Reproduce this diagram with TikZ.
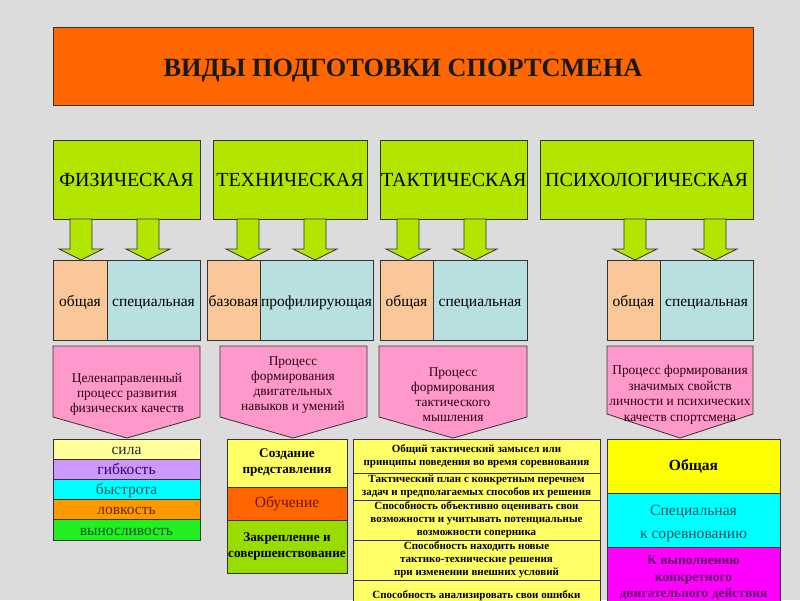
\documentclass[tikz,border=0pt]{standalone}
\usepackage{fontspec}
\setmainfont{Liberation Serif}
\definecolor{bgc}{HTML}{DCDCDC}
\definecolor{bordc}{HTML}{333333}
\definecolor{orng}{HTML}{FF6600}
\definecolor{lime}{HTML}{B2E600}
\definecolor{peach}{HTML}{FAC898}
\definecolor{lcyan}{HTML}{B8E0E0}
\definecolor{pinkc}{HTML}{FF99CC}
\definecolor{lyel}{HTML}{FFFF99}
\definecolor{purp}{HTML}{CC99FF}
\definecolor{cyanc}{HTML}{00FFFF}
\definecolor{orng2}{HTML}{FF9900}
\definecolor{grn}{HTML}{22EE22}
\definecolor{yel2}{HTML}{FFFF66}
\definecolor{lime2}{HTML}{99DD00}
\definecolor{yel3}{HTML}{FFFF00}
\definecolor{mag}{HTML}{FF00FF}
\definecolor{tpurp}{HTML}{330066}
\definecolor{tteal}{HTML}{005566}
\definecolor{tbrown}{HTML}{662800}
\definecolor{tgreen}{HTML}{005A14}
\definecolor{tred}{HTML}{6E1400}
\definecolor{tmag}{HTML}{5A0064}
\definecolor{tpink}{HTML}{2A0010}
\newcommand{\fs}[2]{\fontsize{#1}{#2}\selectfont}
\newcommand{\blockarrow}[1]{\draw[blockarr] (#1-11,219) -- (#1+11,219) -- (#1+11,249) -- (#1+22,249) -- (#1,260) -- (#1-22,249) -- (#1-11,249) -- cycle;}
\newcommand{\pentagon}[4]{\draw[pent] (#1,346) -- (#2,346) -- (#2,#4) -- (#3,438) -- (#1,#4) -- cycle;}
\begin{document}
\begin{tikzpicture}[x=1pt,y=-1pt,
  bx/.style={draw=bordc, line width=0.8pt, outer sep=0pt, inner sep=1pt, align=center, anchor=north west},
  blockarr/.style={draw=bordc, line width=0.8pt, fill=lime, line join=miter},
  pent/.style={draw=bordc, line width=0.8pt, fill=pinkc},
  ptxt/.style={align=center, inner sep=0pt, font=\fs{13.4}{15}, text=tpink},
  head/.style={bx, fill=lime, minimum height=79pt, font=\fs{20}{22}, text height=14pt, text depth=0pt},
  sub/.style={bx, minimum height=80pt, font=\fs{15.5}{17}, text height=13pt, text depth=1pt},
  fl/.style={bx, minimum width=147pt, minimum height=20pt, inner sep=0pt, font=\fs{15.5}{16}, text height=12.5pt, text depth=1.5pt},
  tk/.style={bx, fill=yel2, minimum width=247pt, font=\bfseries\fs{11}{13}}]
\fill[bgc] (0,0) rectangle (800,600);
\useasboundingbox (0,0) rectangle (800,600);
\clip (0,0) rectangle (800,600);
% title
\node[bx, fill=orng, minimum width=700pt, minimum height=78pt, font=\bfseries\fs{26.3}{28}, text=black!90, text height=20pt, text depth=0pt] (title) at (53,27) {ВИДЫ ПОДГОТОВКИ СПОРТСМЕНА};
% heads
\node[head, minimum width=147pt] (phys) at (53,140) {ФИЗИЧЕСКАЯ};
\node[head, minimum width=154pt] (tech) at (213,140) {ТЕХНИЧЕСКАЯ};
\node[head, minimum width=146pt] (tact) at (380,140) {ТАКТИЧЕСКАЯ};
\node[head, minimum width=213pt] (psy) at (540,140) {ПСИХОЛОГИЧЕСКАЯ};
% arrows
\blockarrow{81}\blockarrow{148}
\blockarrow{248}\blockarrow{315}
\blockarrow{408}\blockarrow{475}
\blockarrow{635}\blockarrow{715}
% sub boxes
\node[sub, fill=peach, minimum width=54pt] (p1) at (53,260) {общая};
\node[sub, fill=lcyan, minimum width=93pt] (p2) at (107,260) {специальная};
\node[sub, fill=peach, minimum width=53pt, inner sep=0pt] (t1) at (207,260) {базовая};
\node[sub, fill=lcyan, minimum width=113pt, inner sep=0pt] (t2) at (260,260) {профилирующая};
\node[sub, fill=peach, minimum width=53pt] (k1) at (380,260) {общая};
\node[sub, fill=lcyan, minimum width=94pt] (k2) at (433,260) {специальная};
\node[sub, fill=peach, minimum width=53pt] (s1) at (607,260) {общая};
\node[sub, fill=lcyan, minimum width=93pt] (s2) at (660,260) {специальная};
% pentagons
\pentagon{53}{200}{127}{417}
\pentagon{220}{367}{293}{417}
\pentagon{379}{527}{453}{417}
\pentagon{607}{753}{680}{414}
\node[ptxt] (pp) at (127,394) {Целенаправленный\\процесс развития\\физических качеств};
\node[ptxt] (tp) at (293,385) {Процесс\\формирования\\двигательных\\навыков и умений};
\node[ptxt] (kp) at (453,395) {Процесс\\формирования\\тактического\\мышления};
\node[ptxt, font=\fs{13.4}{15.5}] (sp) at (680,395) {Процесс формирования\\значимых свойств\\личности и психических\\качеств спортсмена};
% physical list
\node[fl, fill=lyel, text=black!85] (f1) at (53,439) {сила};
\node[fl, fill=purp, text=tpurp] (f2) at (53,459) {гибкость};
\node[fl, fill=cyanc, text=tteal] (f3) at (53,479) {быстрота};
\node[fl, fill=orng2, text=tbrown] (f4) at (53,499) {ловкость};
\node[fl, fill=grn, minimum height=21pt, text=tgreen] (f5) at (53,519) {выносливость};
% technical list
\node[bx, fill=yel2, minimum width=120pt, minimum height=48pt, inner sep=0pt, font=\bfseries\fs{13.2}{16}] (e1) at (227,439) {Создание\\представления};
\node[bx, fill=orng, minimum width=120pt, minimum height=33pt, font=\fs{15.5}{16}, text=tred] (e2) at (227,487) {Обучение};
\node[bx, fill=lime2, minimum width=120pt, minimum height=53pt, inner sep=0pt, font=\bfseries\fs{13.2}{16}] (e3) at (227,520) {Закрепление и\\совершенствование};
% tactical list
\node[tk, minimum height=34pt] (k1l) at (353,439) {Общий тактический замысел или\\принципы поведения во время соревнования};
\node[tk, minimum height=27pt, inner sep=0pt] (k2l) at (353,473) {Тактический план с конкретным перечнем\\задач и предполагаемых способов их решения};
\node[tk, minimum height=40pt, inner sep=0pt] (k3l) at (353,500) {Способность объективно оценивать свои\\возможности и учитывать потенциальные\\возможности соперника};
\node[tk, minimum height=40pt, inner sep=0pt] (k4l) at (353,540) {Способность находить новые\\тактико-технические решения\\при изменении внешних условий};
\node[tk, minimum height=40pt, text height=17pt, text depth=22pt] (k5l) at (353,580) {Способность анализировать свои ошибки};
% psychological list
\node[bx, fill=yel3, minimum width=173pt, minimum height=54pt, font=\bfseries\fs{15.5}{16}] (y1) at (607,439) {Общая};
\node[bx, fill=cyanc, minimum width=173pt, minimum height=54pt, font=\fs{15.6}{23}, text=tteal] (y2) at (607,493) {};
\node[align=center, inner sep=0pt, font=\fs{15.6}{23}, text=tteal] (y2t) at ([yshift=-3pt]y2.center) {Специальная\\к соревнованию};
\node[bx, fill=mag, minimum width=173pt, minimum height=60pt, inner sep=0pt, font=\bfseries\fs{13.5}{16.5}, text=tmag, text depth=0pt] (y3) at (607,547) {К выполнению\\конкретного\\двигательного действия};
\end{tikzpicture}
\end{document}
